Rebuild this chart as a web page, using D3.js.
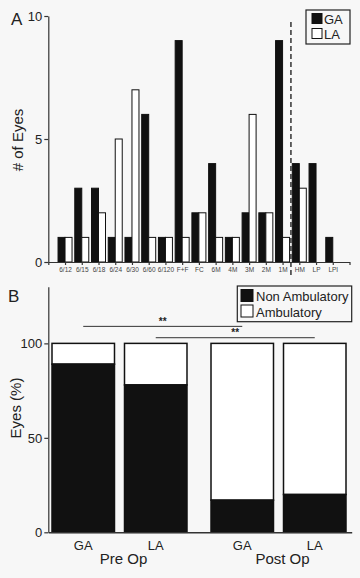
<!DOCTYPE html>
<html><head><meta charset="utf-8">
<script src="https://cdn.jsdelivr.net/npm/d3@7/dist/d3.min.js"></script>
<style>
body{margin:0;background:#f7f7f7;}
svg{display:block;font-family:"Liberation Sans",Arial,sans-serif;}
</style>
</head><body>
<svg id="chart" width="360" height="578"></svg>
<script>
// ---- Panel A data ----
const acuityLabels = ["6/12","6/15","6/18","6/24","6/30","6/60","6/120","F+F","FC","6M","4M","3M","2M","1M","HM","LP","LPI"];
const gaCounts = [1,3,3,1,1,6,1,9,2,4,1,2,2,9,4,4,1];
const laCounts = [1,1,2,5,7,1,1,1,2,1,1,6,2,1,3,0,0];
const countTicks = [0,5,10];
const legendA = ["GA","LA"];

// ---- Panel B data ----
const periods = ["Pre Op","Post Op"];
const anesthesia = ["GA","LA"];
const nonAmbulatoryPct = [89,78,17,20];   // Pre GA, Pre LA, Post GA, Post LA
const ambulatoryPct = [11,22,83,80];
const pctTicks = [0,50,100];
const legendB = ["Non Ambulatory","Ambulatory"];

const svg = d3.select("#chart");
const ink = "#111";

// ================= Panel A =================
const xA = d3.scaleLinear().domain([0, acuityLabels.length + 1]).range([48.3, 349.5]);
const yA = d3.scaleLinear().domain([0, 10]).range([262, 16]);
const bw = 7;

const gA = svg.append("g");
gA.selectAll("rect.ga").data(gaCounts).join("rect")
  .attr("x", (d,i) => xA(i+1) - bw).attr("width", bw)
  .attr("y", d => yA(d)).attr("height", d => yA(0) - yA(d))
  .attr("fill", ink).attr("stroke", ink).attr("stroke-width", 1)
  .attr("display", d => d > 0 ? null : "none");
gA.selectAll("rect.la").data(laCounts).join("rect")
  .attr("x", (d,i) => xA(i+1)).attr("width", bw)
  .attr("y", d => yA(d)).attr("height", d => yA(0) - yA(d))
  .attr("fill", "#fff").attr("stroke", ink).attr("stroke-width", 1)
  .attr("display", d => d > 0 ? null : "none");

const axA = gA.append("g").attr("transform", `translate(0,${yA(0)})`)
  .call(d3.axisBottom(xA).tickValues(d3.range(1, acuityLabels.length + 1))
    .tickFormat(i => acuityLabels[i-1]).tickSize(3).tickSizeOuter(3).tickPadding(2));
axA.selectAll("text").attr("font-size", 6.5).attr("fill", "#444");
axA.selectAll("line,path").attr("stroke", "#333").attr("stroke-width", 1.2);

const ayA = gA.append("g").attr("transform", `translate(${xA(0)},0)`)
  .call(d3.axisLeft(yA).tickValues(countTicks).tickSize(4).tickSizeOuter(0).tickPadding(2));
ayA.selectAll("text").attr("font-size", 13).attr("fill", "#222");
ayA.selectAll("line,path").attr("stroke", "#333").attr("stroke-width", 1.2);

gA.append("line")
  .attr("x1", xA(14.5)).attr("x2", xA(14.5))
  .attr("y1", 22).attr("y2", 276)
  .attr("stroke", "#333").attr("stroke-width", 1.5).attr("stroke-dasharray", "5,3");

gA.append("text").attr("x", 11).attr("y", 25).attr("font-size", 17).attr("fill", "#222").text("A");
gA.append("text").attr("transform", `translate(23,140) rotate(-90)`)
  .attr("text-anchor", "middle").attr("font-size", 15).attr("fill", "#222").text("# of Eyes");

const lgA = gA.append("g");
lgA.append("rect").attr("x", 306).attr("y", 10).attr("width", 44).attr("height", 34)
  .attr("fill", "none").attr("stroke", "#222").attr("stroke-width", 1.2);
lgA.selectAll("rect.sw").data(legendA).join("rect").attr("class","sw")
  .attr("x", 312).attr("y", (d,i) => 13.5 + i*15).attr("width", 10).attr("height", 10)
  .attr("fill", (d,i) => i === 0 ? ink : "#fff").attr("stroke", ink).attr("stroke-width", 1);
lgA.selectAll("text").data(legendA).join("text")
  .attr("x", 324).attr("y", (d,i) => 23.5 + i*15).attr("font-size", 13).attr("fill", "#222").text(d => d);

// ================= Panel B =================
const yB = d3.scaleLinear().domain([0, 130]).range([532.3, 286.7]);
const outer = d3.scaleBand().domain(periods).range([52, 346]).paddingInner(0.151);
const inner = d3.scaleBand().domain(anesthesia).range([0, outer.bandwidth()]).paddingInner(0.138);
const barX = i => outer(periods[Math.floor(i/2)]) + inner(anesthesia[i%2]);
const barC = i => barX(i) + inner.bandwidth()/2;

const gB = svg.append("g");
gB.selectAll("rect.amb").data(ambulatoryPct).join("rect")
  .attr("x", (d,i) => barX(i)).attr("width", inner.bandwidth())
  .attr("y", yB(100)).attr("height", (d,i) => yB(nonAmbulatoryPct[i]) - yB(100))
  .attr("fill", "#fff").attr("stroke", ink).attr("stroke-width", 1.5);
gB.selectAll("rect.non").data(nonAmbulatoryPct).join("rect")
  .attr("x", (d,i) => barX(i)).attr("width", inner.bandwidth())
  .attr("y", d => yB(d)).attr("height", d => yB(0) - yB(d))
  .attr("fill", ink).attr("stroke", ink).attr("stroke-width", 1.5);

const ayB = gB.append("g").attr("transform", `translate(48.3,0)`)
  .call(d3.axisLeft(yB).tickValues(pctTicks).tickSize(4).tickSizeOuter(0).tickPadding(2));
ayB.selectAll("text").attr("font-size", 13).attr("fill", "#222");
ayB.selectAll("line,path").attr("stroke", "#333").attr("stroke-width", 1.2);

const xLine = d3.scaleLinear().domain([0,1]).range([48.3, 351.7]);
const axB = gB.append("g").attr("transform", `translate(0,${yB(0)})`)
  .call(d3.axisBottom(xLine).tickValues([]).tickSizeOuter(0));
axB.selectAll("path").attr("stroke", "#333").attr("stroke-width", 1.5);

gB.selectAll("text.an").data(d3.range(4)).join("text")
  .attr("x", i => barC(i)).attr("y", 550).attr("text-anchor", "middle")
  .attr("font-size", 13).attr("fill", "#222").text(i => anesthesia[i%2]);
gB.selectAll("text.per").data(periods).join("text")
  .attr("x", d => outer(d) + outer.bandwidth()/2 + 4).attr("y", 564).attr("text-anchor", "middle")
  .attr("font-size", 15).attr("fill", "#222").text(d => d);

const sig = [[0,2,109],[1,3,103]];
sig.forEach(([a,b,v]) => {
  gB.append("line").attr("x1", barC(a)).attr("x2", barC(b)).attr("y1", yB(v)).attr("y2", yB(v))
    .attr("stroke", "#333").attr("stroke-width", 1);
  gB.append("text").attr("x", (barC(a)+barC(b))/2).attr("y", yB(v) - 1.5)
    .attr("text-anchor", "middle").attr("font-size", 10).attr("font-weight", "bold").attr("fill", "#222").text("**");
});

gB.append("text").attr("x", 8).attr("y", 302).attr("font-size", 17).attr("fill", "#222").text("B");
gB.append("text").attr("transform", `translate(21,408) rotate(-90)`)
  .attr("text-anchor", "middle").attr("font-size", 15).attr("fill", "#222").text("Eyes (%)");

const lgB = gB.append("g");
lgB.append("rect").attr("x", 237.3).attr("y", 286).attr("width", 114.4).attr("height", 35.7)
  .attr("fill", "none").attr("stroke", "#222").attr("stroke-width", 1.2);
lgB.selectAll("rect.sw").data(legendB).join("rect").attr("class","sw")
  .attr("x", 241).attr("y", (d,i) => 289.5 + i*15.5).attr("width", 12).attr("height", 12)
  .attr("fill", (d,i) => i === 0 ? ink : "#fff").attr("stroke", ink).attr("stroke-width", 1);
lgB.selectAll("text").data(legendB).join("text")
  .attr("x", 256).attr("y", (d,i) => 301 + i*15.5).attr("font-size", 13).attr("fill", "#222").text(d => d);
</script>
</body></html>
